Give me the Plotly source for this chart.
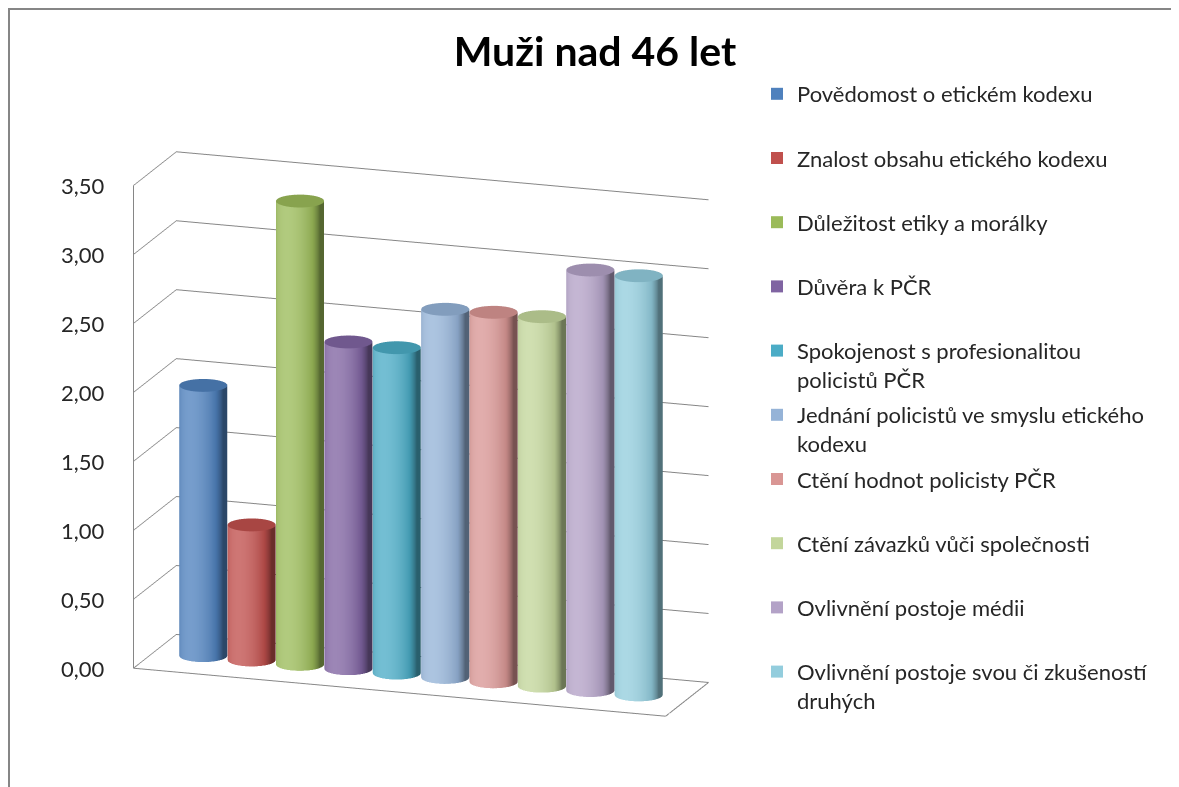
import numpy as np
import plotly.graph_objects as go

# ---------------- data ----------------
title_text = "Muži nad 46 let"
series_names = [
    "Povědomost o etickém kodexu",
    "Znalost obsahu etického kodexu",
    "Důležitost etiky a morálky",
    "Důvěra k PČR",
    "Spokojenost s profesionalitou<br>policistů PČR",
    "Jednání policistů ve smyslu etického<br>kodexu",
    "Ctění hodnot policisty PČR",
    "Ctění závazků vůči společnosti",
    "Ovlivnění postoje médii",
    "Ovlivnění postoje svou či zkušeností<br>druhých",
]
series_values = [1.96, 0.98, 3.36, 2.37, 2.36, 2.67, 2.68, 2.68, 3.05, 3.04]
series_colors = ["#4F81BD", "#C0504D", "#9BBB59", "#8064A2", "#4BACC6",
                 "#95B3D7", "#D99694", "#C3D69B", "#B3A2C7", "#93CDDD"]
value_ticks = [0.0, 0.5, 1.0, 1.5, 2.0, 2.5, 3.0, 3.5]

# ---------------- geometry helpers ----------------
n_bars = len(series_values)
x_range = [-0.5, n_bars + 0.5]
y_range = [0.0, 2.6]
z_range = [0.0, 3.5]
radius = 0.47
seg = 72
light_angle = np.deg2rad(-105.0)   # direction of the highlight on the cylinders


def hex_rgb(h):
    h = h.lstrip("#")
    return np.array([int(h[i:i + 2], 16) for i in (0, 2, 4)], dtype=float)


def rgb_str(c):
    c = np.clip(c, 0, 255)
    return "rgb(%d,%d,%d)" % tuple(int(round(v)) for v in c)


def shade_scale(col):
    base = hex_rgb(col)
    dark = base * 0.55
    mid = base * 0.9
    light = base + (255 - base) * 0.22
    return [[0.0, rgb_str(dark)], [0.45, rgb_str(mid)], [1.0, rgb_str(light)]]


def cylinder(cx, cy, r, h):
    th = np.linspace(0, 2 * np.pi, seg, endpoint=False)
    cs, sn = np.cos(th), np.sin(th)
    side_int = np.clip(np.cos(th - light_angle), 0, 1) ** 0.9
    xs = np.concatenate([cx + r * cs, cx + r * cs, cx + r * cs, [cx]])
    ys = np.concatenate([cy + r * sn, cy + r * sn, cy + r * sn, [cy]])
    zs = np.concatenate([np.zeros(seg), np.full(seg, h), np.full(seg, h), [h]])
    inten = np.concatenate([side_int, side_int, np.full(seg, 0.42), [0.42]])
    I, J, K = [], [], []
    for k in range(seg):
        a, b = k, (k + 1) % seg
        c, d = seg + k, seg + (k + 1) % seg
        I += [a, a]
        J += [b, d]
        K += [d, c]
    centre = 3 * seg
    for k in range(seg):
        I.append(centre)
        J.append(2 * seg + k)
        K.append(2 * seg + (k + 1) % seg)
    return xs, ys, zs, I, J, K, inten


fig = go.Figure()

y_mid = (y_range[0] + y_range[1]) / 2
for idx, (name, val, col) in enumerate(zip(series_names, series_values, series_colors)):
    xs, ys, zs, I, J, K, inten = cylinder(idx + 0.5, y_mid, radius, val)
    fig.add_trace(go.Mesh3d(
        x=xs, y=ys, z=zs, i=I, j=J, k=K,
        intensity=inten, intensitymode="vertex", cmin=0, cmax=1,
        colorscale=shade_scale(col), showscale=False,
        flatshading=False, showlegend=False, hoverinfo="skip",
        lighting=dict(ambient=1.0, diffuse=0.0, specular=0.0,
                      roughness=1.0, fresnel=0.0),
    ))

# floor outline (from the axis ranges)
fx = [x_range[0], x_range[1], x_range[1], x_range[0], x_range[0]]
fy = [y_range[0], y_range[0], y_range[1], y_range[1], y_range[0]]
fig.add_trace(go.Scatter3d(x=fx, y=fy, z=[0] * 5, mode="lines",
                           line=dict(color="#868686", width=2),
                           showlegend=False, hoverinfo="skip"))

# legend entries (square swatches)
for idx, (name, col) in enumerate(zip(series_names, series_colors)):
    label = name if "<br>" in name else name + "<br> "
    fig.add_trace(go.Scatter(x=[None], y=[None], mode="markers", name=label,
                             legendgroup=f"g{idx}",
                             marker=dict(symbol="square", size=11, color=col)))

# value-axis labels kept flat (screen-aligned) at the front-left edge
tick_annotations = [dict(x=x_range[0], y=y_range[0], z=v,
                         text=f"{v:.2f}".replace(".", ","),
                         showarrow=False, xanchor="right", yanchor="middle",
                         xshift=-26,
                         font=dict(family="Lato", size=22, color="#262626"))
                    for v in value_ticks]

W, H = 1171, 779   # page adds an 8px body margin
zoom = 1.46
fig.update_layout(
    width=W, height=H,
    margin=dict(l=0, r=0, t=0, b=0),
    paper_bgcolor="white", plot_bgcolor="white",
    separators=", ",
    font=dict(family="Lato", size=22, color="#262626"),
    title=dict(text="<b>" + title_text + "</b>", x=587 / W, xanchor="center",
               y=1 - 44 / H, yanchor="middle",
               font=dict(family="Lato", size=41, color="#000000")),
    xaxis=dict(visible=False), yaxis=dict(visible=False),
    legend=dict(x=749 / W, xanchor="left", y=1 - 65 / H, yanchor="top",
                valign="top", tracegroupgap=4, itemsizing="constant",
                font=dict(family="Lato", size=22, color="#262626"),
                bgcolor="rgba(0,0,0,0)"),
    scene=dict(
        domain=dict(x=[0.0, 0.705], y=[0.013, 0.893]),
        aspectmode="manual",
        aspectratio=dict(x=1.122 * zoom, y=0.267 * zoom, z=1.0 * zoom),
        camera=dict(eye=dict(x=0.327, y=-0.966, z=0.282),
                    center=dict(x=0, y=0, z=0), up=dict(x=0, y=0, z=1),
                    projection=dict(type="orthographic")),
        xaxis=dict(range=x_range, showgrid=False, showticklabels=False,
                   showline=False, zeroline=False, showbackground=False,
                   showspikes=False, title=dict(text=""), ticks=""),
        yaxis=dict(range=y_range, showgrid=False, showticklabels=False,
                   showline=False, zeroline=False, showbackground=False,
                   showspikes=False, title=dict(text=""), ticks=""),
        zaxis=dict(range=z_range, tickvals=value_ticks, showticklabels=False,
                   showgrid=True, gridcolor="#868686", gridwidth=2,
                   showline=True, linecolor="#868686", linewidth=2,
                   zeroline=False, showbackground=False, showspikes=False,
                   ticks="", title=dict(text="")),
        annotations=tick_annotations,
    ),
    shapes=[dict(type="rect", xref="paper", yref="paper",
                 x0=1 / W, x1=(W - 1) / W, y0=-0.05, y1=1 - 1 / H,
                 line=dict(color="#868686", width=2), fillcolor="rgba(0,0,0,0)")],
)

fig.write_html("out.html")
